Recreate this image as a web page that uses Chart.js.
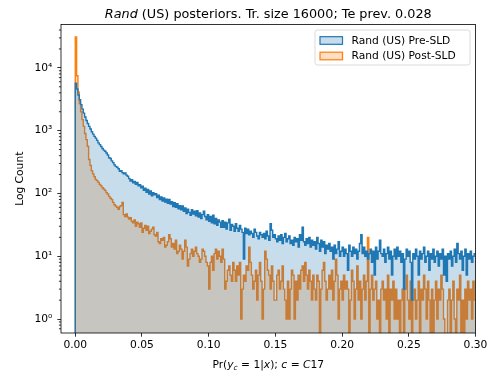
<!DOCTYPE html>
<html>
<head>
<meta charset="utf-8">
<script src="https://cdn.jsdelivr.net/npm/chart.js@4.4.1/dist/chart.umd.min.js"></script>
<style>
body { margin: 0; background: #fff; }
canvas { display: block; }
</style>
</head>
<body>
<canvas id="chart" width="492" height="378"></canvas>
<script>

// histogram bins of width 0.001 starting at 0.0, counts
// (one row = 0.01 of the x axis)
const BIN_WIDTH = 0.001

const PRE_COUNTS = [
       5700, 4600, 3700, 3100, 2600, 2200, 1900, 1650, 1450, 1300,
       1170, 1060, 960, 880, 810, 760, 700, 640, 600, 560,
       520, 490, 470, 440, 410, 370, 360, 330, 310, 285,
       270, 262, 248, 226, 230, 215, 205, 212, 196, 188,
       172, 158, 166, 148, 155, 140, 150, 132, 138, 123,
       130, 112, 121, 104, 116, 98, 110, 92, 103, 95,
       99, 86, 94, 80, 88, 76, 85, 73, 81, 70,
       80, 68, 74, 62, 71, 60, 69, 57, 64, 55,
       63, 52, 59, 48, 56, 50, 45, 55, 47, 52,
       44, 53, 42, 49, 40, 46, 52, 43, 38, 46,
       36, 43, 34, 45, 33, 40, 31, 38, 35, 29,
       37, 29, 35, 27, 34, 39, 26, 32, 30, 25,
       33, 28, 25, 31, 27, 24, 9, 28, 23, 27,
       22, 25, 23, 20, 27, 24, 21, 19, 24, 22,
       20, 23, 19, 25, 21, 18, 33, 26, 20, 22,
       19, 17, 21, 18, 22, 16, 20, 23, 17, 19,
       21, 16, 18, 15, 20, 17, 19, 14, 22, 18,
       29, 17, 15, 19, 16, 20, 14, 18, 15, 17,
       13, 20, 16, 12, 18, 14, 17, 11, 15, 13,
       16, 12, 14, 9, 15, 11, 13, 17, 10, 12,
       14, 10, 13, 11, 6, 15, 12, 10, 14, 11,
       13, 9, 12, 16, 22, 11, 14, 10, 12, 9,
       11, 13, 8, 12, 5, 14, 9, 12, 18, 11,
       10, 13, 8, 11, 14, 9, 12, 5, 10, 13,
       9, 14, 10, 12, 8, 11, 3, 9, 13, 10,
       12, 8, 2, 11, 9, 13, 10, 5, 12, 9,
       11, 14, 8, 10, 12, 6, 11, 9, 13, 8,
       10, 12, 7, 11, 9, 13, 5, 10, 4, 11,
       9, 12, 7, 10, 13, 8, 16, 11, 9, 12,
       6, 10, 13, 5, 11, 9, 12, 8, 10, 11
]

const POST_COUNTS = [
       31000, 7500, 4100, 2700, 2000, 1500, 1170, 900, 720, 565,
       347, 280, 230, 205, 185, 167, 160, 150, 139, 132,
       123, 118, 112, 103, 98, 90, 84, 80, 72, 66,
       63, 60, 56, 62, 64, 72, 46, 43, 47, 42,
       39, 41, 36, 34, 38, 30, 35, 33, 29, 34,
       24, 28, 31, 26, 30, 23, 25, 27, 29, 22,
       21, 24, 17, 16, 19, 18, 20, 14, 15, 17,
       22, 19, 14, 16, 13, 18, 11, 12, 15, 13,
       9, 12, 18, 14, 7, 9, 11, 13, 10, 12,
       14, 11, 10, 8, 9, 13, 12, 10, 8, 7,
       3, 8, 10, 6, 11, 13, 9, 12, 10, 8,
       13, 9, 3, 4, 6, 7, 5, 4, 8, 6,
       4, 7, 5, 8, 1, 3, 5, 4, 7, 6,
       14, 8, 5, 3, 4, 6, 2, 5, 8, 4,
       1, 3, 12, 9, 6, 5, 3, 7, 4, 2,
       2, 5, 6, 3, 4, 7, 3, 2, 1, 4,
       1, 3, 6, 5, 1, 4, 2, 5, 3, 6,
       7, 4, 8, 5, 3, 6, 4, 2, 5, 3,
       2, 5, 4, 0, 3, 6, 8, 4, 2, 3,
       5, 3, 6, 2, 4, 9, 5, 1, 3, 4,
       2, 5, 3, 4, 3, 0, 2, 6, 4, 1,
       3, 7, 2, 4, 1, 3, 5, 2, 4, 20,
       0, 3, 5, 2, 3, 4, 1, 2, 0, 3,
       4, 2, 3, 1, 5, 0, 3, 2, 4, 1,
       3, 1, 2, 0, 2, 3, 0, 3, 5, 2,
       1, 4, 0, 2, 3, 1, 2, 4, 0, 3,
       2, 5, 3, 1, 4, 2, 0, 3, 0, 2,
       4, 1, 3, 2, 5, 3, 1, 0, 0, 2,
       3, 0, 2, 4, 1, 0, 3, 2, 5, 0,
       2, 0, 3, 1, 4, 2, 3, 1, 4, 2
]

const SERIES_LABELS = ["Rand (US) Pre-SLD", "Rand (US) Post-SLD"]

const X_TICKS = [0, 0.05, 0.1, 0.15, 0.2, 0.25, 0.3]
const Y_TICKS = [1, 10, 100, 1000, 10000]

const TITLE_ITALIC = "Rand"
const TITLE_REST = " (US) posteriors. Tr. size 16000; Te prev. 0.028"
const Y_TITLE = "Log Count"

const X_MIN = -0.0107
const X_MAX = 0.30
const Y_MIN = 0.62
const Y_MAX = 49000

const BLUE = "#1f77b4"
const ORANGE = "#ff7f0e"
const BLUE_FILL = "rgba(31,119,180,0.25)"
const ORANGE_FILL = "rgba(255,127,14,0.25)"

const FONT = "DejaVu Sans"


// empty bins sit below the log axis, so push them under the bottom edge
function stepPoints(counts) {
       const pts = [{ x: 0, y: 0.1 }]
       counts.forEach((c, i) => {
              pts.push({ x: i * BIN_WIDTH, y: c > 0 ? c : 0.1 })
       })
       const last = counts[counts.length - 1]
       pts.push({ x: counts.length * BIN_WIDTH, y: last > 0 ? last : 0.1 })
       return pts
}


const SUP = { "0": "\u2070", "1": "\u00b9", "2": "\u00b2", "3": "\u00b3", "4": "\u2074", "-": "\u207b" }

function powLabel(v) {
       const e = String(Math.round(Math.log10(v)))
       return "10" + e.split("").map(ch => SUP[ch]).join("")
}


function drawMath(ctx, segs, cx, baseline, size) {
       const parts = segs.map(([t, kind]) => {
              const s = kind === "sub" ? size * 0.7 : size
              const style = kind === "n" ? "" : "oblique "
              const font = style + s + "px '" + FONT + "'"
              ctx.font = font
              return { t, font, w: ctx.measureText(t).width, dy: kind === "sub" ? size * 0.22 : 0 }
       })
       const total = parts.reduce((a, p) => a + p.w, 0)
       let x = cx - total / 2
       ctx.textAlign = "left"
       ctx.textBaseline = "alphabetic"
       parts.forEach(p => {
              ctx.font = p.font
              ctx.fillText(p.t, x, baseline + p.dy)
              x += p.w
       })
}


const decor = {
       id: "decor",
       afterDraw(chart) {
              const ctx = chart.ctx
              const ca = chart.chartArea
              const yScale = chart.scales.y
              ctx.save()

              // axes frame
              ctx.strokeStyle = "#000"
              ctx.lineWidth = 0.8
              ctx.strokeRect(ca.left, ca.top, ca.right - ca.left, ca.bottom - ca.top)

              // minor ticks of the log axis
              ctx.beginPath()
              for (let k = -1; k <= 4; k++) {
                     for (let m = 2; m <= 9; m++) {
                            const v = m * Math.pow(10, k)
                            if (v < Y_MIN || v > Y_MAX) continue
                            const py = yScale.getPixelForValue(v)
                            ctx.moveTo(ca.left, py)
                            ctx.lineTo(ca.left - 2.1, py)
                     }
              }
              ctx.stroke()

              // legend
              const lx = 315, ly = 30, lw = 155, lh = 35
              ctx.beginPath()
              ctx.roundRect(lx, ly, lw, lh, 2.5)
              ctx.fillStyle = "rgba(255,255,255,0.8)"
              ctx.fill()
              ctx.strokeStyle = "#d0d0d0"
              ctx.lineWidth = 0.8
              ctx.stroke()

              chart.data.datasets.forEach((ds, i) => {
                     const cy = 40.5 + i * 15.5
                     ctx.fillStyle = "#fff"
                     ctx.fillRect(320, cy - 3.8, 22.5, 7.6)
                     ctx.fillStyle = ds.backgroundColor
                     ctx.fillRect(320, cy - 3.8, 22.5, 7.6)
                     ctx.strokeStyle = ds.borderColor
                     ctx.lineWidth = 1.2
                     ctx.strokeRect(320, cy - 3.8, 22.5, 7.6)
                     ctx.fillStyle = "#000"
                     ctx.font = "10.7px '" + FONT + "'"
                     ctx.textAlign = "left"
                     ctx.textBaseline = "middle"
                     ctx.fillText(ds.label, 351.5, cy + 0.5)
              })

              // title, italic first word
              ctx.fillStyle = "#000"
              ctx.textBaseline = "alphabetic"
              ctx.textAlign = "left"
              const tSize = 12.8
              ctx.font = "oblique " + tSize + "px '" + FONT + "'"
              const w1 = ctx.measureText(TITLE_ITALIC).width
              ctx.font = tSize + "px '" + FONT + "'"
              const w2 = ctx.measureText(TITLE_REST).width
              const tx = (ca.left + ca.right) / 2 - (w1 + w2) / 2
              ctx.font = "oblique " + tSize + "px '" + FONT + "'"
              ctx.fillText(TITLE_ITALIC, tx, 17.5)
              ctx.font = tSize + "px '" + FONT + "'"
              ctx.fillText(TITLE_REST, tx + w1, 17.5)

              // x label in math style
              drawMath(ctx, [
                     ["Pr(", "n"], ["y", "i"], ["c", "sub"], [" = 1|", "n"], ["x", "i"],
                     ["); ", "n"], ["c", "i"], [" = ", "n"], ["C", "i"], ["17", "n"]
              ], (ca.left + ca.right) / 2, 367.5, 10.7)

              // y label
              ctx.translate(20.7, (ca.top + ca.bottom) / 2)
              ctx.rotate(-Math.PI / 2)
              ctx.font = "10.7px '" + FONT + "'"
              ctx.textAlign = "center"
              ctx.textBaseline = "middle"
              ctx.fillText(Y_TITLE, 0, 0)

              ctx.restore()
       }
}


Chart.defaults.font.family = FONT
Chart.defaults.font.size = 10.7
Chart.defaults.color = "#000"

new Chart(

       document.getElementById("chart"),

       {
              type: "line",

              data: {
                     datasets: [
                            {
                                   label: SERIES_LABELS[0],
                                   data: stepPoints(PRE_COUNTS),
                                   borderColor: BLUE,
                                   backgroundColor: BLUE_FILL,
                                   borderWidth: 1.4,
                                   pointRadius: 0,
                                   stepped: "before",
                                   fill: "start"
                            },
                            {
                                   label: SERIES_LABELS[1],
                                   data: stepPoints(POST_COUNTS),
                                   borderColor: ORANGE,
                                   backgroundColor: ORANGE_FILL,
                                   borderWidth: 1.4,
                                   pointRadius: 0,
                                   stepped: "before",
                                   fill: "start"
                            }
                     ]
              },

              options: {
                     responsive: false,
                     animation: false,
                     layout: {
                            padding: { top: 24.5, right: 16.5, left: 0, bottom: 0 }
                     },
                     plugins: {
                            legend: { display: false },
                            tooltip: { enabled: false }
                     },
                     scales: {
                            x: {
                                   type: "linear",
                                   min: X_MIN,
                                   max: X_MAX,
                                   afterBuildTicks: s => { s.ticks = X_TICKS.map(v => ({ value: v })) },
                                   afterFit: s => { s.height = 45 },
                                   ticks: {
                                          callback: v => v.toFixed(2),
                                          maxRotation: 0,
                                          autoSkip: false,
                                          padding: 2
                                   },
                                   grid: {
                                          drawOnChartArea: false,
                                          tickLength: 3.7,
                                          tickColor: "#000",
                                          tickWidth: 0.8
                                   },
                                   border: { display: false }
                            },
                            y: {
                                   type: "logarithmic",
                                   min: Y_MIN,
                                   max: Y_MAX,
                                   afterBuildTicks: s => { s.ticks = Y_TICKS.map(v => ({ value: v })) },
                                   afterFit: s => { s.width = 61 },
                                   ticks: {
                                          callback: v => powLabel(v),
                                          autoSkip: false,
                                          padding: 5
                                   },
                                   grid: {
                                          drawOnChartArea: false,
                                          tickLength: 3.7,
                                          tickColor: "#000",
                                          tickWidth: 0.8
                                   },
                                   border: { display: false }
                            }
                     }
              },

              plugins: [decor]
       }

)

</script>
</body>
</html>
